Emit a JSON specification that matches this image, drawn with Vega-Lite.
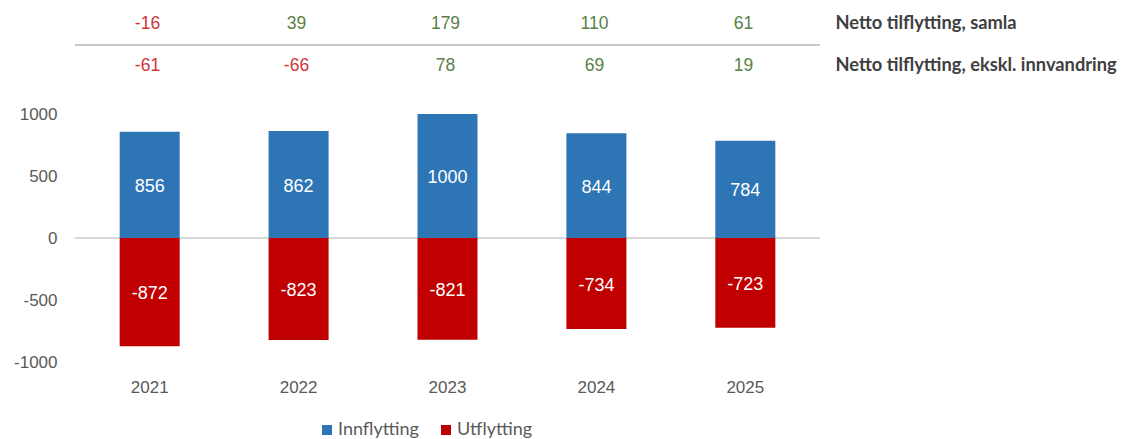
{
  "$schema": "https://vega.github.io/schema/vega-lite/v6.json",
  "padding": {"left": 0, "top": 3, "right": 0, "bottom": 0},
  "background": "white",
  "config": {
    "view": {"stroke": null},
    "font": "Liberation Sans",
    "concat": {"spacing": 18},
    "locale": {"number": {"decimal": ".", "thousands": "", "grouping": [3], "currency": ["", ""], "minus": "-"}}
  },
  "datasets": {
    "netto": [
      {"year": "2021", "rad": "Netto tilflytting, samla", "verdi": -16},
      {"year": "2022", "rad": "Netto tilflytting, samla", "verdi": 39},
      {"year": "2023", "rad": "Netto tilflytting, samla", "verdi": 179},
      {"year": "2024", "rad": "Netto tilflytting, samla", "verdi": 110},
      {"year": "2025", "rad": "Netto tilflytting, samla", "verdi": 61},
      {"year": "2021", "rad": "Netto tilflytting, ekskl. innvandring", "verdi": -61},
      {"year": "2022", "rad": "Netto tilflytting, ekskl. innvandring", "verdi": -66},
      {"year": "2023", "rad": "Netto tilflytting, ekskl. innvandring", "verdi": 78},
      {"year": "2024", "rad": "Netto tilflytting, ekskl. innvandring", "verdi": 69},
      {"year": "2025", "rad": "Netto tilflytting, ekskl. innvandring", "verdi": 19}
    ],
    "flytting": [
      {"year": "2021", "type": "Innflytting", "verdi": 856},
      {"year": "2022", "type": "Innflytting", "verdi": 862},
      {"year": "2023", "type": "Innflytting", "verdi": 1000},
      {"year": "2024", "type": "Innflytting", "verdi": 844},
      {"year": "2025", "type": "Innflytting", "verdi": 784},
      {"year": "2021", "type": "Utflytting", "verdi": -872},
      {"year": "2022", "type": "Utflytting", "verdi": -823},
      {"year": "2023", "type": "Utflytting", "verdi": -821},
      {"year": "2024", "type": "Utflytting", "verdi": -734},
      {"year": "2025", "type": "Utflytting", "verdi": -723}
    ]
  },
  "vconcat": [
    {
      "width": 745,
      "height": 84,
      "data": {"name": "netto"},
      "layer": [
        {
          "mark": {"type": "rule", "color": "#c8c8c8", "strokeWidth": 1.5},
          "encoding": {
            "y": {"datum": "Netto tilflytting, ekskl. innvandring", "type": "nominal", "bandPosition": 0}
          }
        },
        {
          "mark": {"type": "text", "fontSize": 17.5, "baseline": "middle", "font": "Liberation Sans", "dx": -2},
          "encoding": {
            "x": {
              "field": "year", "type": "nominal",
              "scale": {"paddingInner": 0.597, "paddingOuter": 0.3},
              "axis": null
            },
            "y": {
              "field": "rad", "type": "nominal",
              "sort": ["Netto tilflytting, samla", "Netto tilflytting, ekskl. innvandring"],
              "scale": {"domain": ["Netto tilflytting, samla", "Netto tilflytting, ekskl. innvandring"], "paddingInner": 0, "paddingOuter": 0},
              "axis": {
                "orient": "right", "title": null, "domain": false, "ticks": false,
                "labelPadding": 15, "labelFont": "Lato", "labelFontWeight": "bold",
                "labelFontSize": 18.3, "labelColor": "#404040", "labelLimit": 400
              }
            },
            "text": {"field": "verdi", "type": "quantitative"},
            "color": {
              "field": "verdi", "type": "quantitative",
              "scale": {"type": "threshold", "domain": [0], "range": ["#d13438", "#5a7f46"]},
              "legend": null
            }
          }
        }
      ]
    },
    {
      "width": 745,
      "height": 248,
      "data": {"name": "flytting"},
      "layer": [
        {
          "layer": [
            {
              "mark": {"type": "rule", "color": "#d9d9d9", "strokeWidth": 1.5},
              "encoding": {
                "y": {"datum": 0, "type": "quantitative", "scale": {"domain": [-1000, 1000], "nice": false}}
              }
            },
            {
              "mark": {"type": "bar"},
              "encoding": {
                "x": {
                  "field": "year", "type": "nominal",
                  "scale": {"paddingInner": 0.597, "paddingOuter": 0.3},
                  "axis": {
                    "title": null, "domain": false, "ticks": false, "labelAngle": 0,
                    "labelPadding": 17, "labelFontSize": 17, "labelColor": "#595959",
                    "labelFont": "Liberation Sans"
                  }
                },
                "y": {
                  "field": "verdi", "type": "quantitative",
                  "scale": {"domain": [-1000, 1000], "nice": false},
                  "axis": {
                    "title": null, "domain": false, "ticks": false, "grid": false,
                    "values": [-1000, -500, 0, 500, 1000],
                    "labelPadding": 18, "minExtent": 75, "labelFontSize": 17,
                    "labelColor": "#595959", "labelFont": "Liberation Sans"
                  }
                },
                "color": {
                  "field": "type", "type": "nominal",
                  "scale": {"domain": ["Innflytting", "Utflytting"], "range": ["#2e75b6", "#c00000"]},
                  "legend": {
                    "title": null, "orient": "none", "direction": "horizontal",
                    "legendX": 243, "legendY": 307, "symbolType": "square",
                    "symbolSize": 100, "symbolStrokeWidth": 0, "labelFont": "Lato",
                    "labelFontSize": 18, "labelColor": "#595959", "columnPadding": 18,
                    "labelOffset": 2
                  }
                }
              }
            }
          ]
        },
        {
          "mark": {"type": "text", "color": "white", "fontSize": 18, "baseline": "middle", "font": "Liberation Sans", "dy": 2},
          "encoding": {
            "x": {"field": "year", "type": "nominal"},
            "y": {
              "field": "verdi", "type": "quantitative",
              "scale": {"domain": [-2000, 2000], "nice": false},
              "axis": null
            },
            "text": {"field": "verdi", "type": "quantitative"}
          }
        }
      ],
      "resolve": {"scale": {"y": "independent"}}
    }
  ]
}
